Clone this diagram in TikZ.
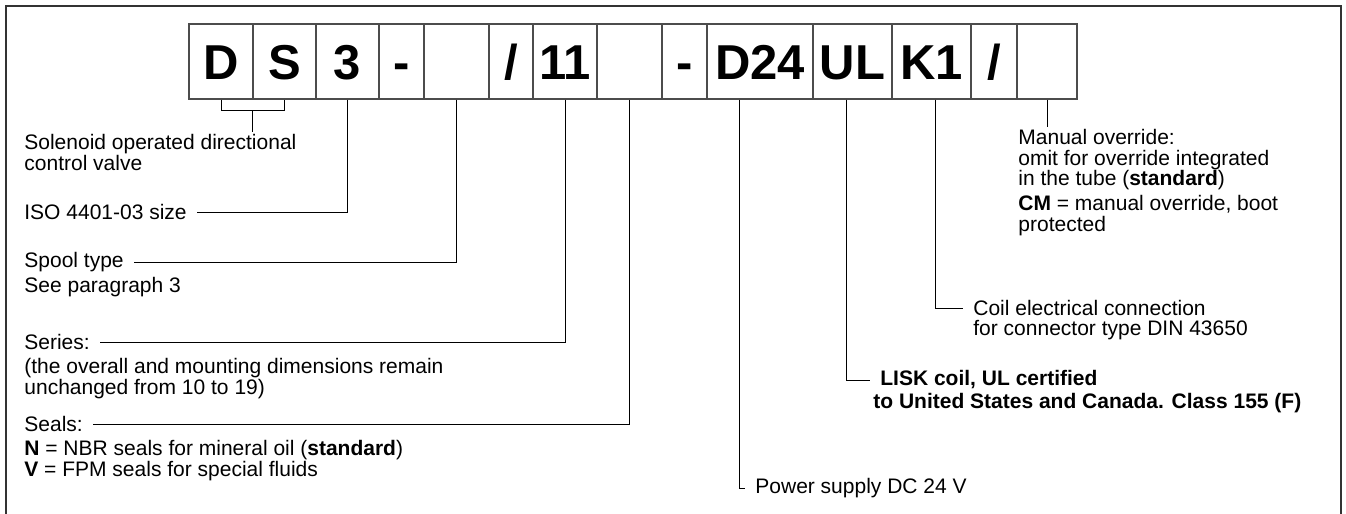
\documentclass[tikz,border=0pt]{standalone}
\usepackage{fontspec}
\setmainfont{Liberation Sans}
\usetikzlibrary{calc,positioning}

\begin{document}
\begin{tikzpicture}[x=0.5pt,y=-0.5pt,
  cell/.style={draw=black!70,line width=0.7pt,minimum height=37.5pt,inner sep=0pt,
    text height=17.5pt,text depth=0pt,font=\fontsize{24.5}{24.5}\selectfont\bfseries},
  lbl/.style={inner xsep=5pt,inner ysep=1pt,align=left,font=\fontsize{10.5}{10.2}\selectfont},
  lead/.style={line width=0.5pt}]
  \useasboundingbox (0,0) rectangle (1346,514);
  % Frame
  \draw[line width=0.8pt,black!80] (6,514) -- (6,6) -- (1341,6) -- (1341,514);

  % Code boxes
  \node[cell,minimum width=32pt] (d) at (221,61.5) {D};
  \node[cell,minimum width=31.5pt] (s) at (284.5,61.5) {S};
  \node[cell,minimum width=31.5pt] (size) at (347.5,61.5) {3};
  \node[cell,minimum width=22.5pt] (dasha) at (401.5,61.5) {-};
  \node[cell,minimum width=32.5pt] (spoolbox) at (456.5,61.5) {};
  \node[cell,minimum width=22pt] (slasha) at (511,61.5) {/};
  \node[cell,minimum width=32pt] (seriesbox) at (565,61.5) {11};
  \node[cell,minimum width=32.5pt] (sealsbox) at (629.5,61.5) {};
  \node[cell,minimum width=22.5pt] (dashb) at (684.5,61.5) {-};
  \node[cell,minimum width=53pt] (volt) at (760,61.5) {D24};
  \node[cell,minimum width=39.5pt] (ul) at (852.5,61.5) {UL};
  \node[cell,minimum width=39.5pt] (conn) at (931.5,61.5) {K1};
  \node[cell,minimum width=23pt] (slashb) at (994,61.5) {/};
  \node[cell,minimum width=30pt] (ovbox) at (1047,61.5) {};

  % Left labels
  \node[lbl,anchor=north west] (solenoid) at (14,132) {Solenoid operated directional\\control valve};
  \node[lbl,anchor=west] (iso) at (14,212) {ISO 4401-03 size};
  \node[lbl,anchor=west] (spool) at (14,262) {Spool type};
  \node[lbl,anchor=west] (spoolnote) at (14,287) {See paragraph 3};
  \node[lbl,anchor=west] (series) at (14,342) {Series:};
  \node[lbl,anchor=north west] (seriesnote) at (14,356) {(the overall and mounting dimensions remain\\unchanged from 10 to 19)};
  \node[lbl,anchor=west] (seals) at (14,424) {Seals:};
  \node[lbl,anchor=north west] (sealsnote) at (14,438) {\textbf{N} = NBR seals for mineral oil (\textbf{standard})\\\textbf{V} = FPM seals for special fluids};

  % Right labels
  \node[lbl,anchor=north west] (override) at (1008,127) {Manual override:\\omit for override integrated\\in the tube (\textbf{standard})};
  \node[lbl,anchor=north west] (cm) at (1008,193) {\textbf{CM} = manual override, boot\\protected};
  \node[lbl,anchor=west] (coil) at (963,308) {Coil electrical connection};
  \node[lbl,anchor=west] (coilnote) at (963,330) {for connector type DIN 43650};
  \node[lbl,anchor=west,font=\fontsize{10.5}{10.2}\selectfont\bfseries] (lisk) at (870,380) {LISK coil, UL certified};
  \node[lbl,anchor=west,font=\fontsize{10.5}{10.2}\selectfont\bfseries] (lisknote) at (863,403) {to United States and Canada. Class 155 (F)};
  \node[lbl,anchor=west] (power) at (745,488) {Power supply DC 24 V};

  % Leaders
  \draw[lead] (d.south) -- ++(0,11) coordinate (dsl) -| (s.south);
  \coordinate (dsm) at ($(d.south)!0.5!(s.south)+(0,11)$);
  \draw[lead] (dsm) -- (dsm |- solenoid.north);
  \draw[lead] (size.south) |- (iso.east);
  \draw[lead] (spoolbox.south) |- (spool.east);
  \draw[lead] (seriesbox.south) |- (series.east);
  \draw[lead] (sealsbox.south) |- (seals.east);
  \draw[lead] ($(volt.south)+(-21,0)$) |- (power.west);
  \draw[lead] ($(ul.south)+(-6,0)$) |- (lisk.west);
  \draw[lead] ($(conn.south)+(4,0)$) |- (coil.west);
  \draw[lead] (ovbox.south) -- (ovbox.south |- override.north);
\end{tikzpicture}
\end{document}
